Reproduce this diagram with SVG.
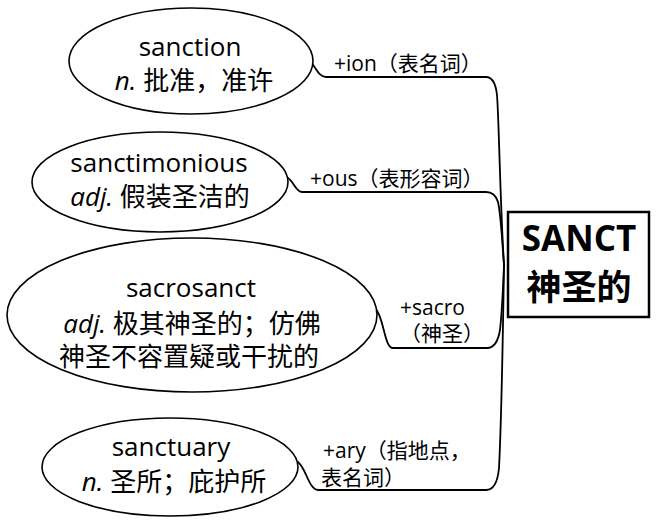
<svg xmlns="http://www.w3.org/2000/svg" width="656" height="521" viewBox="0 0 656 521">
<style>
.bg{fill:#fff}
.node ellipse{fill:#fff;stroke:#000;stroke-width:1.6}
.t{font-family:"Open Sans","Noto Sans CJK SC",sans-serif;font-size:26px;fill:#000;text-anchor:middle}
.i{font-style:italic}
.lbl{font-family:"Open Sans","Noto Sans CJK SC",sans-serif;font-size:21px;fill:#000}
.conn path{fill:none;stroke:#000;stroke-width:1.8;stroke-linecap:round}
.root rect{fill:#fff;stroke:#000;stroke-width:2.5}
.rt{font-family:"Open Sans","Noto Sans CJK SC",sans-serif;font-weight:bold;font-size:35px;fill:#000;text-anchor:middle}
</style>
<rect class="bg" x="0" y="0" width="656" height="521"/>
<g id="connectors" class="conn">
<path d="M504 265 C500 200 499 120 497 95 Q495 77 486 77 L326 77 C318 77 316 66 310 62"/>
<path d="M504 265 C502 240 501 215 498 202 Q495 192 486 192 L302 192 C296 192 294 182 288 178"/>
<path d="M504 265 C503 290 502 312 500 330 Q497 348 487 348 L393 348 C384 348 384 316 375 308"/>
<path d="M504 265 C503 330 501 430 499 468 Q497 490 486 490 L318 490 C309 490 306 468 298 462"/>
</g>
<g id="label-ion"><text class="lbl" x="334" y="71">+ion（表名词）</text></g>
<g id="label-ous"><text class="lbl" x="310" y="186">+ous（表形容词）</text></g>
<g id="label-sacro"><text class="lbl" x="400" y="315">+sacro</text><text class="lbl" x="400" y="341">（神圣）</text></g>
<g id="label-ary"><text class="lbl" x="323" y="458">+ary（指地点，</text><text class="lbl" x="321" y="485">表名词）</text></g>
<g id="node-sanction" class="node">
<ellipse cx="191" cy="61" rx="122" ry="53"/>
<text class="t" x="190" y="56">sanction</text>
<text class="t" x="194" y="90"><tspan class="i">n.</tspan> 批准，准许</text>
</g>
<g id="node-sanctimonious" class="node">
<ellipse cx="160" cy="182" rx="128" ry="50"/>
<text class="t" x="159" y="172">sanctimonious</text>
<text class="t" x="160" y="206"><tspan class="i">adj.</tspan> 假装圣洁的</text>
</g>
<g id="node-sacrosanct" class="node">
<ellipse cx="192" cy="315" rx="185" ry="77"/>
<text class="t" x="191" y="297">sacrosanct</text>
<text class="t" x="192" y="333"><tspan class="i">adj.</tspan> 极其神圣的；仿佛</text>
<text class="t" x="189" y="366">神圣不容置疑或干扰的</text>
</g>
<g id="node-sanctuary" class="node">
<ellipse cx="170" cy="467" rx="128" ry="49"/>
<text class="t" x="171" y="456">sanctuary</text>
<text class="t" x="174" y="491"><tspan class="i">n.</tspan> 圣所；庇护所</text>
</g>
<g id="root" class="root">
<rect x="508" y="212" width="141" height="105"/>
<text class="rt" x="579" y="251">SANCT</text>
<text class="rt" x="579" y="300">神圣的</text>
</g>
</svg>
